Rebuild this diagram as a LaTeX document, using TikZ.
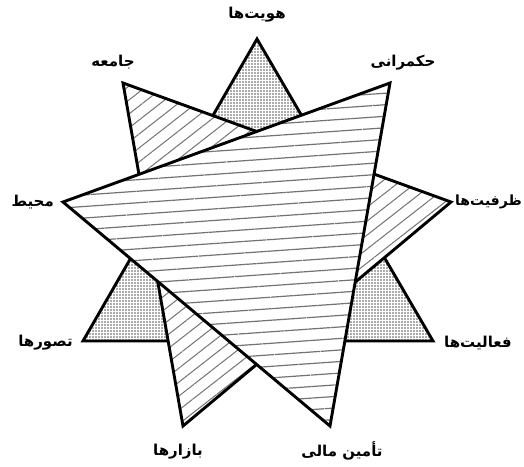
\documentclass[tikz,border=0pt]{standalone}
\usepackage{fontspec}
\usetikzlibrary{patterns.meta}
\newfontfamily\arabicfont[Script=Arabic]{DejaVu Sans}
\TeXXeTstate=1
\begin{document}
\begin{tikzpicture}[x=1pt,y=-1pt,
  tri/.style={line width=2.9pt, line join=miter},
  dotfill/.style={pattern={Dots[distance=3pt, radius=0.8pt]}, pattern color=black!65},
  diagfill/.style={pattern={Lines[angle=38, distance=11pt, line width=1pt]}, pattern color=black!55},
  horzfill/.style={pattern={Lines[angle=4, distance=11.5pt, line width=1.2pt]}, pattern color=black!55},
  lbl/.style={font=\arabicfont\bfseries\fontsize{15}{17}\selectfont, inner sep=0pt}]
\useasboundingbox (0,0) rectangle (524,466);
% triangle 1 (dots)
\coordinate (T) at (257,39);
\coordinate (BL) at (83,341);
\coordinate (BR) at (433,341);
% triangle 2 (diagonal lines)
\coordinate (J) at (123,83);
\coordinate (Z) at (451,202);
\coordinate (B) at (183,426);
% triangle 3 (horizontal lines)
\coordinate (H) at (390,83);
\coordinate (M) at (63,202);
\coordinate (F) at (330,426);

\fill[white] (T) -- (BL) -- (BR) -- cycle;
\fill[dotfill] (T) -- (BL) -- (BR) -- cycle;
\draw[tri] (T) -- (BL) -- (BR) -- cycle;

\fill[white] (J) -- (Z) -- (B) -- cycle;
\fill[diagfill] (J) -- (Z) -- (B) -- cycle;
\draw[tri] (J) -- (Z) -- (B) -- cycle;

\fill[white] (H) -- (M) -- (F) -- cycle;
\fill[horzfill] (H) -- (M) -- (F) -- cycle;
\draw[tri] (H) -- (M) -- (F) -- cycle;

\node[lbl] (hoviyat) at (257,15) {\beginR هویت‌ها\endR};
\node[lbl] (jameeh) at (113,62) {\beginR جامعه\endR};
\node[lbl] (hokmrani) at (403,63) {\beginR حکمرانی\endR};
\node[lbl, anchor=east] (mohit) at (54,202) {\beginR محیط\endR};
\node[lbl, anchor=east, font=\arabicfont\bfseries\fontsize{14}{16}\selectfont] (zarfiyat) at (522,202) {\beginR ظرفیت‌ها\endR};
\node[lbl, anchor=east] (tasavor) at (73,343) {\beginR تصورها\endR};
\node[lbl, anchor=west] (faaliyat) at (444,343) {\beginR فعالیت‌ها\endR};
\node[lbl] (bazar) at (178,452) {\beginR بازارها\endR};
\node[lbl] (tamin) at (342,451) {\beginR تأمین مالی\endR};
\end{tikzpicture}
\end{document}
